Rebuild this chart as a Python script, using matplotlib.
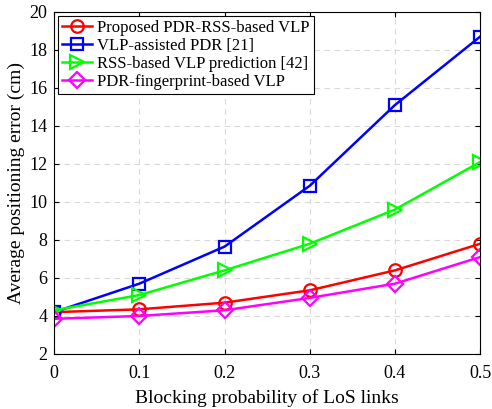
import numpy as np
import matplotlib
matplotlib.use("Agg")
import matplotlib.pyplot as plt

plt.rcParams['font.family'] = ['Liberation Serif', 'DejaVu Serif']
plt.rcParams['mathtext.fontset'] = 'stix'

prob = [0, 0.1, 0.2, 0.3, 0.4, 0.5]
proposed = [4.2, 4.35, 4.7, 5.35, 6.4, 7.8]
vlp_pdr = [4.2, 5.7, 7.65, 10.85, 15.1, 18.7]
rss_vlp = [4.3, 5.1, 6.4, 7.8, 9.6, 12.1]
pdr_fp = [3.85, 4.0, 4.3, 4.95, 5.7, 7.1]

labels = ['Proposed PDR-RSS-based VLP', 'VLP-assisted PDR [21]',
          'RSS-based VLP prediction [42]', 'PDR-fingerprint-based VLP']

fig = plt.figure(figsize=(4.92, 4.09), dpi=100)
ax = fig.add_axes([0.11, 0.1345, 0.866, 0.8365])

ax.plot(prob, proposed, color='#ff0000', marker='o', ms=9, mfc='none', mew=1.6, lw=1.8, label=labels[0])
ax.plot(prob, vlp_pdr, color='#0000ff', marker='s', ms=8, mfc='none', mew=1.6, lw=1.8, label=labels[1])
ax.plot(prob, rss_vlp, color='#00ff00', marker='>', ms=10, mfc='none', mew=1.6, lw=1.8, label=labels[2])
ax.plot(prob, pdr_fp, color='#ff00ff', marker='D', ms=8, mfc='none', mew=1.6, lw=1.8, label=labels[3])

ax.set_xlim(0, 0.5)
ax.set_ylim(2, 20)
ax.set_xticks([0, 0.1, 0.2, 0.3, 0.4, 0.5])
ax.set_xticklabels(['0', '0.1', '0.2', '0.3', '0.4', '0.5'])
ax.set_yticks(np.arange(2, 21, 2))
ax.tick_params(direction='in', top=True, right=True, labelsize=13)
ax.tick_params(axis='x', pad=8)
ax.tick_params(axis='y', pad=5)
ax.grid(True, ls=(0, (5, 4)), color='#d9d9d9', lw=0.8)
for s in ax.spines.values():
    s.set_linewidth(0.8)

ax.set_xlabel('Blocking probability of LoS links', fontsize=14, labelpad=5)
ax.set_ylabel('Average positioning error (cm)', fontsize=14, labelpad=3)

leg = ax.legend(loc='upper left', fontsize=12, fancybox=False, edgecolor='black',
                framealpha=1, borderaxespad=0.25, handlelength=1.8, labelspacing=0.12,
                borderpad=0.25, handletextpad=0.3)
leg.get_frame().set_linewidth(0.8)

fig.savefig('out.png', dpi=100)
